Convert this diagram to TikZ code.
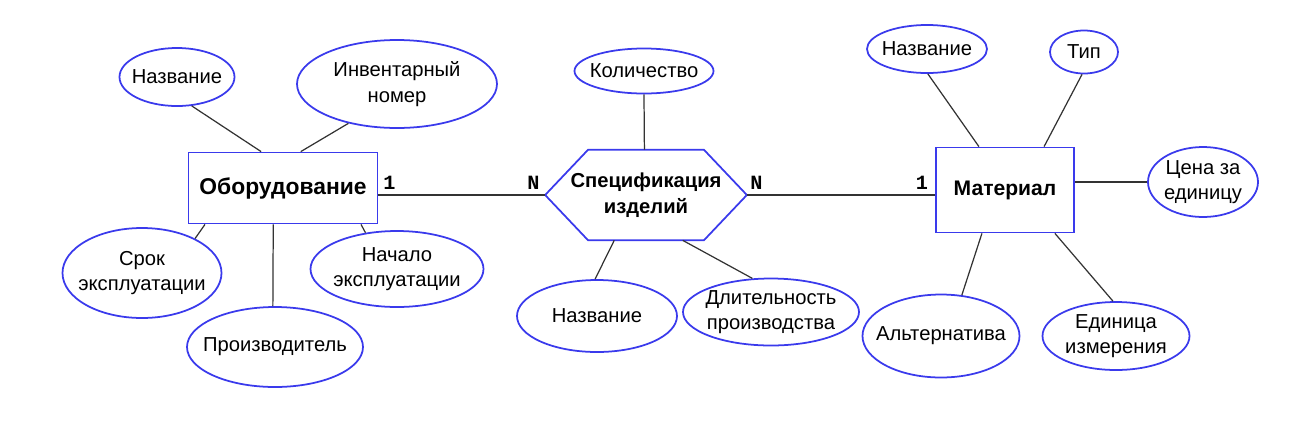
\documentclass[tikz,border=0pt]{standalone}
\usepackage{fontspec}
\setmainfont{Liberation Sans}
\setmonofont{Liberation Mono}
\usepackage{xcolor}
\usepackage{tikz}
\usetikzlibrary{shapes.geometric, calc}
\definecolor{erblue}{RGB}{58,58,236}

\begin{document}
\begin{tikzpicture}[x=0.02cm, y=-0.02cm,
  attr/.style 2 args={ellipse, draw=erblue, line width=1pt, inner sep=-1cm,
         minimum width=#1*\px, minimum height=#2*\px, align=center,
         font=\fontsize{11.5}{14.5}\selectfont},
  ent/.style 2 args={rectangle, draw=erblue, line width=1pt,
         minimum width=#1*\px, minimum height=#2*\px, align=center,
         font=\fontsize{12}{15}\selectfont\bfseries},
  link/.style={draw=black!80, line width=0.7pt},
  card/.style={font=\fontsize{11.5}{12}\selectfont\ttfamily\bfseries, inner sep=0}]
  \def\px{0.02cm}
  \useasboundingbox (0,0) rectangle (1316,427);
  %% Entities
  \node[ent={189}{71}, font=\fontsize{13}{15}\selectfont\bfseries] (obor) at (283,188) {Оборудование};
  \node[ent={138}{85}] (mat) at (1005,190) {Материал};
  %% Relationship (hexagon)
  \node[minimum width=201*\px, minimum height=90*\px, align=center,
        font=\fontsize{11.5}{15}\selectfont\bfseries] (spec) at (646,195) {Спецификация\\изделий};
  \draw[erblue, line width=1pt] (spec.west) -- ($(spec.north west)+(43,0)$)
    -- ($(spec.north east)+(-43,0)$) -- (spec.east)
    -- ($(spec.south east)+(-43,0)$) -- ($(spec.south west)+(43,0)$) -- cycle;
  %% Attributes
  \foreach \nm/\cx/\cy/\w/\h/\txt in {
      oborName/177/77/115/58/{Название},
      oborInv/397/84/200/88/{Инвентарный\\номер},
      oborLife/142/273/159/90/{Срок\\эксплуатации},
      oborMaker/275/347/176/80/{Производитель},
      oborStart/397/269/173/76/{Начало\\эксплуатации},
      specQty/644/71/139/45/{Количество},
      specName/597/316/160/72/{Название},
      specTime/771/312/176/67/{Длительность\\производства},
      matName/927/49/120/48/{Название},
      matType/1084/52/68/43/{Тип},
      matPrice/1203/182/110/70/{Цена за\\единицу},
      matAlt/941/336/157/83/{Альтернатива},
      matUnit/1116/336/147/68/{Единица\\измерения}}{
    \node[attr={\w}{\h}] (\nm) at (\cx,\cy) {\txt};
  }
  %% Attribute links
  \foreach \a/\pa/\b/\pb in {
      oborName/-63/obor/121, oborInv/219/obor/64, oborLife/33/obor/205,
      oborMaker/93/obor/-105, oborStart/131/obor/-25,
      specQty/270/spec/92, specName/93/spec/-125, specTime/119/spec/-51,
      matName/-88/mat/121, matType/-95/mat/48,
      matAlt/63/mat/-118, matUnit/95/mat/-41}{
    \draw[link] (\a.\pa) -- (\b.\pb);
  }
  \draw[link] (matPrice.west) -- (matPrice.west -| mat.east);
  %% Relationship links with cardinalities
  \draw[link] (obor.east |- spec.west) -- (spec.west);
  \draw[link] (spec.east) -- (spec.east -| mat.west);
  \node[card] (cardObor) at (389.5,182.5) {1};
  \node[card] (cardSpecL) at (533.5,182.5) {N};
  \node[card] (cardSpecR) at (756.5,182.5) {N};
  \node[card] (cardMat) at (922,182.5) {1};
\end{tikzpicture}
\end{document}
